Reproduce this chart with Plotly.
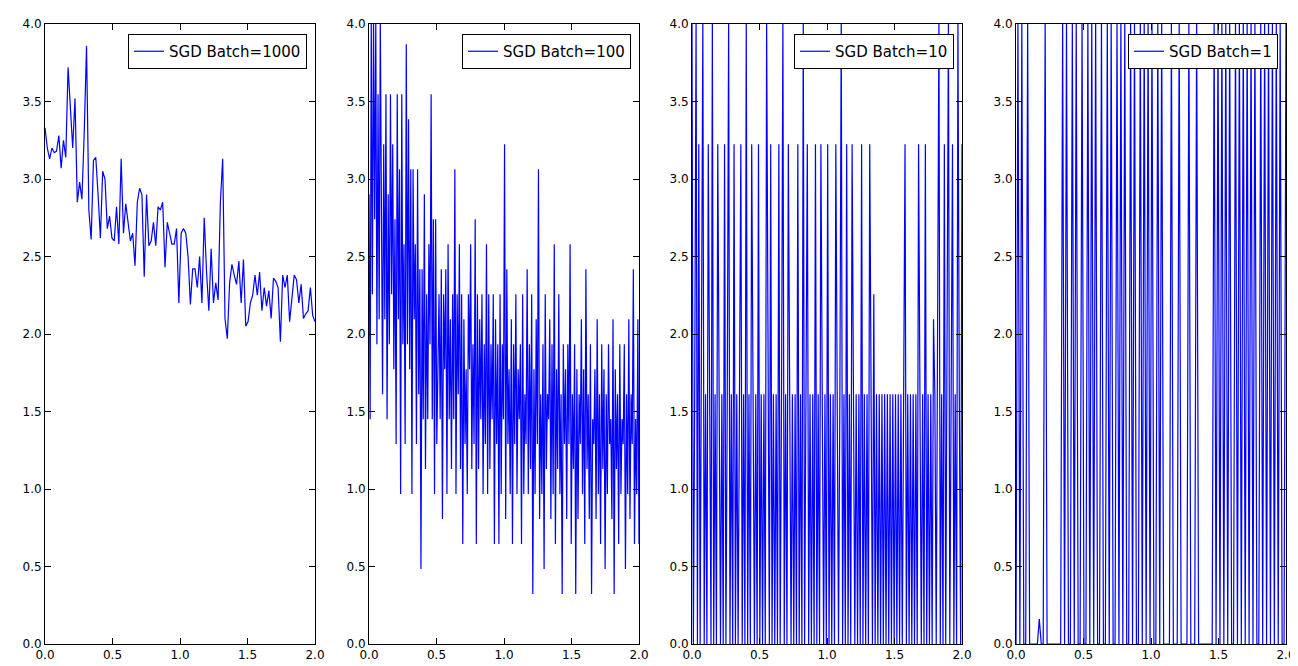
import numpy as np
import plotly.graph_objects as go

# loss curves; the minibatch losses sit on levels of STEP
STEP = 0.1612

loss_1000 = [3.33, 3.2, 3.13, 3.2, 3.17, 3.18, 3.28, 3.07, 3.25, 3.14, 3.72, 3.45, 3.2, 3.52, 2.85,
             2.98, 2.87, 3.3, 3.86, 2.8, 2.61, 3.12, 3.14, 2.9, 2.62, 3.05, 3.0, 2.68, 2.76, 2.62,
             2.6, 2.82, 2.58, 3.13, 2.65, 2.84, 2.7, 2.6, 2.65, 2.44, 2.85, 2.94, 2.9, 2.37, 2.9,
             2.57, 2.6, 2.72, 2.57, 2.82, 2.8, 2.85, 2.43, 2.72, 2.65, 2.58, 2.58, 2.68, 2.2, 2.65,
             2.68, 2.65, 2.5, 2.19, 2.42, 2.42, 2.3, 2.5, 2.2, 2.75, 2.4, 2.15, 2.55, 2.2, 2.33,
             2.22, 2.85, 3.13, 2.1, 1.97, 2.33, 2.45, 2.38, 2.32, 2.47, 2.2, 2.48, 2.05, 2.08, 2.2,
             2.25, 2.38, 2.25, 2.4, 2.15, 2.3, 2.18, 2.28, 2.1, 2.36, 2.34, 2.3, 1.95, 2.38, 2.3,
             2.38, 2.08, 2.23, 2.38, 2.35, 2.2, 2.32, 2.1, 2.13, 2.15, 2.3, 2.12, 2.08]

levels_100 = [18, 9, 25, 14, 25, 17, 25, 12, 22, 13, 25, 16, 10, 20, 13, 22, 9, 18, 12, 22,
              14, 20, 11, 17, 8, 22, 13, 19, 6, 22, 12, 16, 8, 24, 12, 21, 11, 19, 6, 19,
              13, 16, 8, 19, 10, 15, 3, 15, 9, 18, 7, 14, 9, 16, 12, 22, 9, 17, 6, 17,
              8, 11, 14, 9, 15, 5, 14, 11, 15, 6, 16, 9, 13, 7, 14, 9, 19, 6, 14, 10,
              16, 7, 14, 4, 13, 8, 11, 6, 14, 11, 16, 7, 12, 8, 17, 4, 14, 7, 13, 9,
              14, 6, 12, 8, 16, 6, 14, 7, 12, 9, 14, 4, 13, 8, 12, 4, 14, 6, 12, 9,
              20, 5, 15, 8, 11, 6, 13, 4, 12, 8, 14, 6, 11, 9, 12, 4, 14, 6, 10, 8,
              15, 6, 12, 7, 14, 2, 11, 6, 13, 8, 19, 5, 10, 6, 12, 3, 14, 7, 10, 9,
              13, 5, 12, 6, 16, 4, 11, 7, 14, 6, 10, 2, 12, 8, 11, 5, 12, 8, 16, 4,
              10, 7, 12, 2, 11, 5, 10, 8, 13, 6, 11, 4, 15, 7, 10, 5, 12, 2, 9, 8,
              11, 5, 13, 6, 10, 4, 12, 7, 11, 3, 10, 6, 12, 8, 9, 5, 13, 2, 11, 7,
              10, 4, 12, 6, 9, 8, 12, 3, 10, 6, 13, 5, 10, 8, 15, 4, 9, 6, 13, 4]

levels_10 = [25, 0, 10, 25, 0, 20, 0, 10, 25, 0, 10, 0, 20, 10, 0, 25, 0, 10, 0, 20,
             10, 0, 10, 0, 20, 0, 10, 25, 0, 10, 0, 20, 0, 10, 0, 10, 20, 0, 10, 0,
             25, 0, 10, 0, 20, 10, 0, 10, 0, 20, 0, 10, 0, 10, 0, 25, 10, 0, 20, 0,
             10, 0, 10, 0, 20, 0, 10, 25, 0, 10, 0, 20, 10, 0, 10, 0, 10, 0, 20, 0,
             10, 0, 25, 0, 10, 20, 0, 10, 0, 10, 0, 20, 0, 10, 0, 20, 10, 0, 10, 0,
             20, 0, 10, 0, 10, 0, 20, 10, 0, 10, 25, 0, 10, 0, 20, 0, 10, 0, 20, 10,
             0, 10, 0, 10, 0, 20, 0, 10, 0, 10, 0, 20, 10, 0, 14, 0, 10, 0, 10, 0,
             10, 0, 10, 0, 10, 0, 10, 0, 10, 0, 10, 0, 10, 0, 10, 0, 10, 20, 0, 10,
             0, 10, 0, 10, 0, 10, 0, 20, 10, 0, 10, 0, 20, 0, 10, 0, 10, 0, 13, 10,
             0, 10, 25, 0, 10, 0, 20, 0, 10, 25, 0, 10, 20, 0, 10, 0, 25, 10, 0, 20]

levels_1 = [0, 25, 0, 25, 0, 0, 25, 0, 0, 0, 0, 0, 1, 0, 0, 25, 0, 0, 0, 0,
            0, 0, 0, 0, 25, 0, 25, 0, 0, 25, 0, 25, 0, 0, 25, 0, 0, 25, 0, 25,
            0, 25, 0, 0, 25, 0, 0, 25, 0, 25, 0, 0, 25, 0, 25, 0, 25, 0, 0, 25,
            0, 25, 0, 0, 25, 0, 25, 0, 25, 0, 25, 0, 0, 25, 0, 25, 0, 0, 0, 0,
            25, 0, 0, 0, 25, 0, 0, 0, 0, 25, 0, 0, 0, 25, 0, 0, 0, 0, 0, 0,
            0, 0, 25, 0, 25, 0, 25, 0, 25, 0, 25, 0, 0, 25, 0, 25, 0, 25, 0, 25,
            0, 25, 0, 25, 0, 0, 25, 0, 25, 0, 25, 0, 25, 0, 25, 0, 25, 0, 0, 25]

labels = ["SGD Batch=1000", "SGD Batch=100", "SGD Batch=10", "SGD Batch=1"]
series = [loss_1000,
          [v * STEP for v in levels_100],
          [v * STEP for v in levels_10],
          [v * STEP for v in levels_1]]

W, H = 1298, 666
ML, MR, MT, MB = 37, 20, 16, 30
IW, IH = W - ML - MR, H - MT - MB
left_px = [37, 361, 684, 1008]
pw = 270
fig = go.Figure()
for i, (lab, ys) in enumerate(zip(labels, series)):
    n = i + 1
    xs = np.linspace(0, 2, len(ys))
    leg = "legend" if n == 1 else "legend%d" % n
    fig.add_trace(go.Scatter(x=xs, y=ys, mode="lines", name=lab,
                             line=dict(color="#0000ff", width=1.2),
                             xaxis="x" if n == 1 else "x%d" % n,
                             yaxis="y" if n == 1 else "y%d" % n,
                             legend=leg))
    x0 = (left_px[i] - ML) / IW
    x1 = (left_px[i] + pw - ML) / IW
    ax = dict(showline=True, mirror="ticks", linecolor="black", linewidth=1,
              ticks="inside", ticklen=6, tickcolor="black", showgrid=False,
              zeroline=False, tickfont=dict(size=12, color="black"))
    fig.layout["xaxis" if n == 1 else "xaxis%d" % n] = dict(
        ax, domain=[x0, x1], range=[0, 2], dtick=0.5, tickformat=".1f",
        anchor="y" if n == 1 else "y%d" % n)
    fig.layout["yaxis" if n == 1 else "yaxis%d" % n] = dict(
        ax, domain=[0, 1], range=[0, 4], dtick=0.5, tickformat=".1f",
        anchor="x" if n == 1 else "x%d" % n)
    fig.layout[leg] = dict(x=x1 - 8 / IW, y=1 - 10 / IH, xanchor="right", yanchor="top",
                           bgcolor="white", bordercolor="black", borderwidth=1,
                           font=dict(size=15, color="black"))

fig.update_layout(width=W, height=H, margin=dict(l=ML, r=MR, t=MT, b=MB, autoexpand=False),
                  plot_bgcolor="white", paper_bgcolor="white",
                  font=dict(family="DejaVu Sans"), showlegend=True)
fig.write_html("out.html")
